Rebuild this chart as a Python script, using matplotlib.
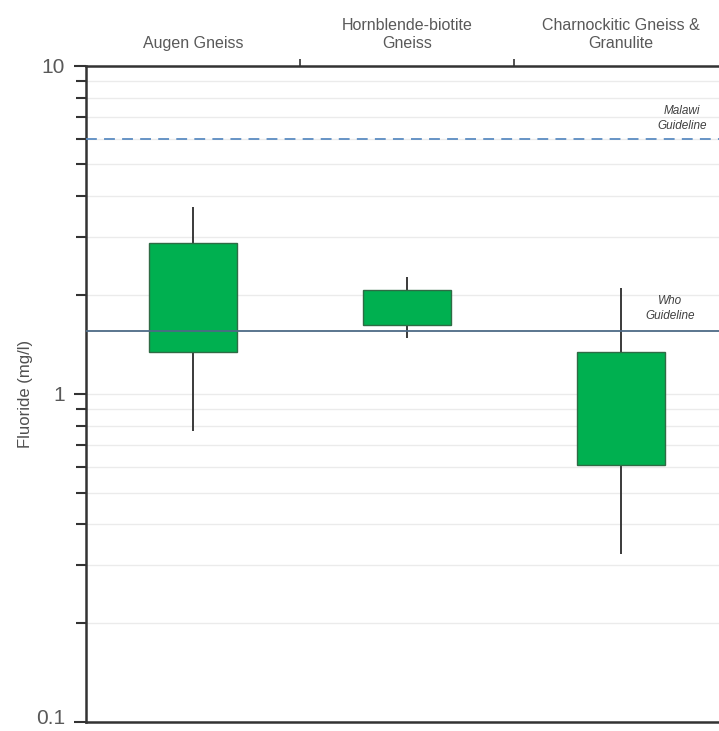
import matplotlib.pyplot as plt
import matplotlib.transforms as mtransforms
from matplotlib.ticker import LogLocator, FixedLocator, NullFormatter

# fluoride summary per rock unit (mg/l)
units = ["Augen Gneiss", "Hornblende-biotite\nGneiss", "Charnockitic Gneiss &\nGranulite"]
f_min = [0.77, 1.48, 0.324]
f_q1 = [1.34, 1.62, 0.608]
f_q3 = [2.88, 2.07, 1.34]
f_max = [3.70, 2.27, 2.10]

malawi_limit = 6.0
who_limit = 1.55

GREEN = "#00b050"
DARK = "#333333"
TEXT = "#595959"

plt.rcParams["font.family"] = ["Liberation Sans", "DejaVu Sans"]

fig = plt.figure(figsize=(7.19, 7.31), dpi=100)
ax = fig.add_axes([0.1196, 0.0123, 0.893, 0.8978])

xs = list(range(len(units)))

# whiskers first so the boxes sit over them
ax.vlines(xs, f_min, f_max, color="#3a3a3a", linewidth=1.4, zorder=2)
heights = [hi - lo for lo, hi in zip(f_q1, f_q3)]
ax.bar(xs, heights, bottom=f_q1, width=0.41, color=GREEN,
       edgecolor="#2f6b45", linewidth=1.0, zorder=3)

# guideline lines
ax.axhline(malawi_limit, color="#5b8cc2", linewidth=1.3, linestyle=(0, (6, 4)), zorder=4)
ax.axhline(who_limit, color="#4d6a86", linewidth=1.3, zorder=4)
ax.annotate("Malawi\nGuideline", xy=(2.285, malawi_limit), xytext=(0, 5),
            textcoords="offset points", ha="center", va="bottom",
            fontsize=8.5, style="italic", color="#404040", linespacing=1.3)
ax.annotate("Who\nGuideline", xy=(2.23, who_limit), xytext=(0, 7),
            textcoords="offset points", ha="center", va="bottom",
            fontsize=8.5, style="italic", color="#404040", linespacing=1.3)

ax.set_yscale("log")
ax.set_ylim(0.1, 10)
ax.set_xlim(-0.5, 2.5)

ax.yaxis.set_major_locator(FixedLocator([0.1, 1, 10]))
ax.yaxis.set_major_formatter(plt.FixedFormatter(["0.1", "1", "10"]))
ax.yaxis.set_minor_locator(LogLocator(base=10, subs=range(2, 10)))
ax.yaxis.set_minor_formatter(NullFormatter())
ax.tick_params(axis="y", which="major", length=9, width=1.5, color=DARK,
               labelsize=15, labelcolor=TEXT, pad=6)
ax.tick_params(axis="y", which="minor", length=7, width=1.5, color=DARK)
ax.grid(True, axis="y", which="both", color="#ebebeb", linewidth=1.0, zorder=0)
ax.set_axisbelow(True)

# lift the bottom label a little so it stays inside the figure
lift = mtransforms.ScaledTranslation(0, 4 / 72, fig.dpi_scale_trans)
bottom_label = ax.get_yticklabels()[0]
bottom_label.set_transform(bottom_label.get_transform() + lift)

# category separators on the top edge, labels above
ax.xaxis.tick_top()
ax.set_xticks([0.5, 1.5])
ax.set_xticklabels([])
ax.tick_params(axis="x", which="major", direction="out", length=5, width=1.2, color=DARK)
for x, name in zip(xs, units):
    ax.text(x, 1.023, name, transform=ax.get_xaxis_transform(), ha="center",
            va="bottom", fontsize=11.5, color=TEXT, linespacing=1.25)

for side in ["left", "top", "bottom", "right"]:
    ax.spines[side].set_color(DARK)
    ax.spines[side].set_linewidth(1.8)

ax.set_ylabel("Fluoride (mg/l)", fontsize=12, color="#505050", labelpad=2)

fig.savefig("out.png", dpi=100)
